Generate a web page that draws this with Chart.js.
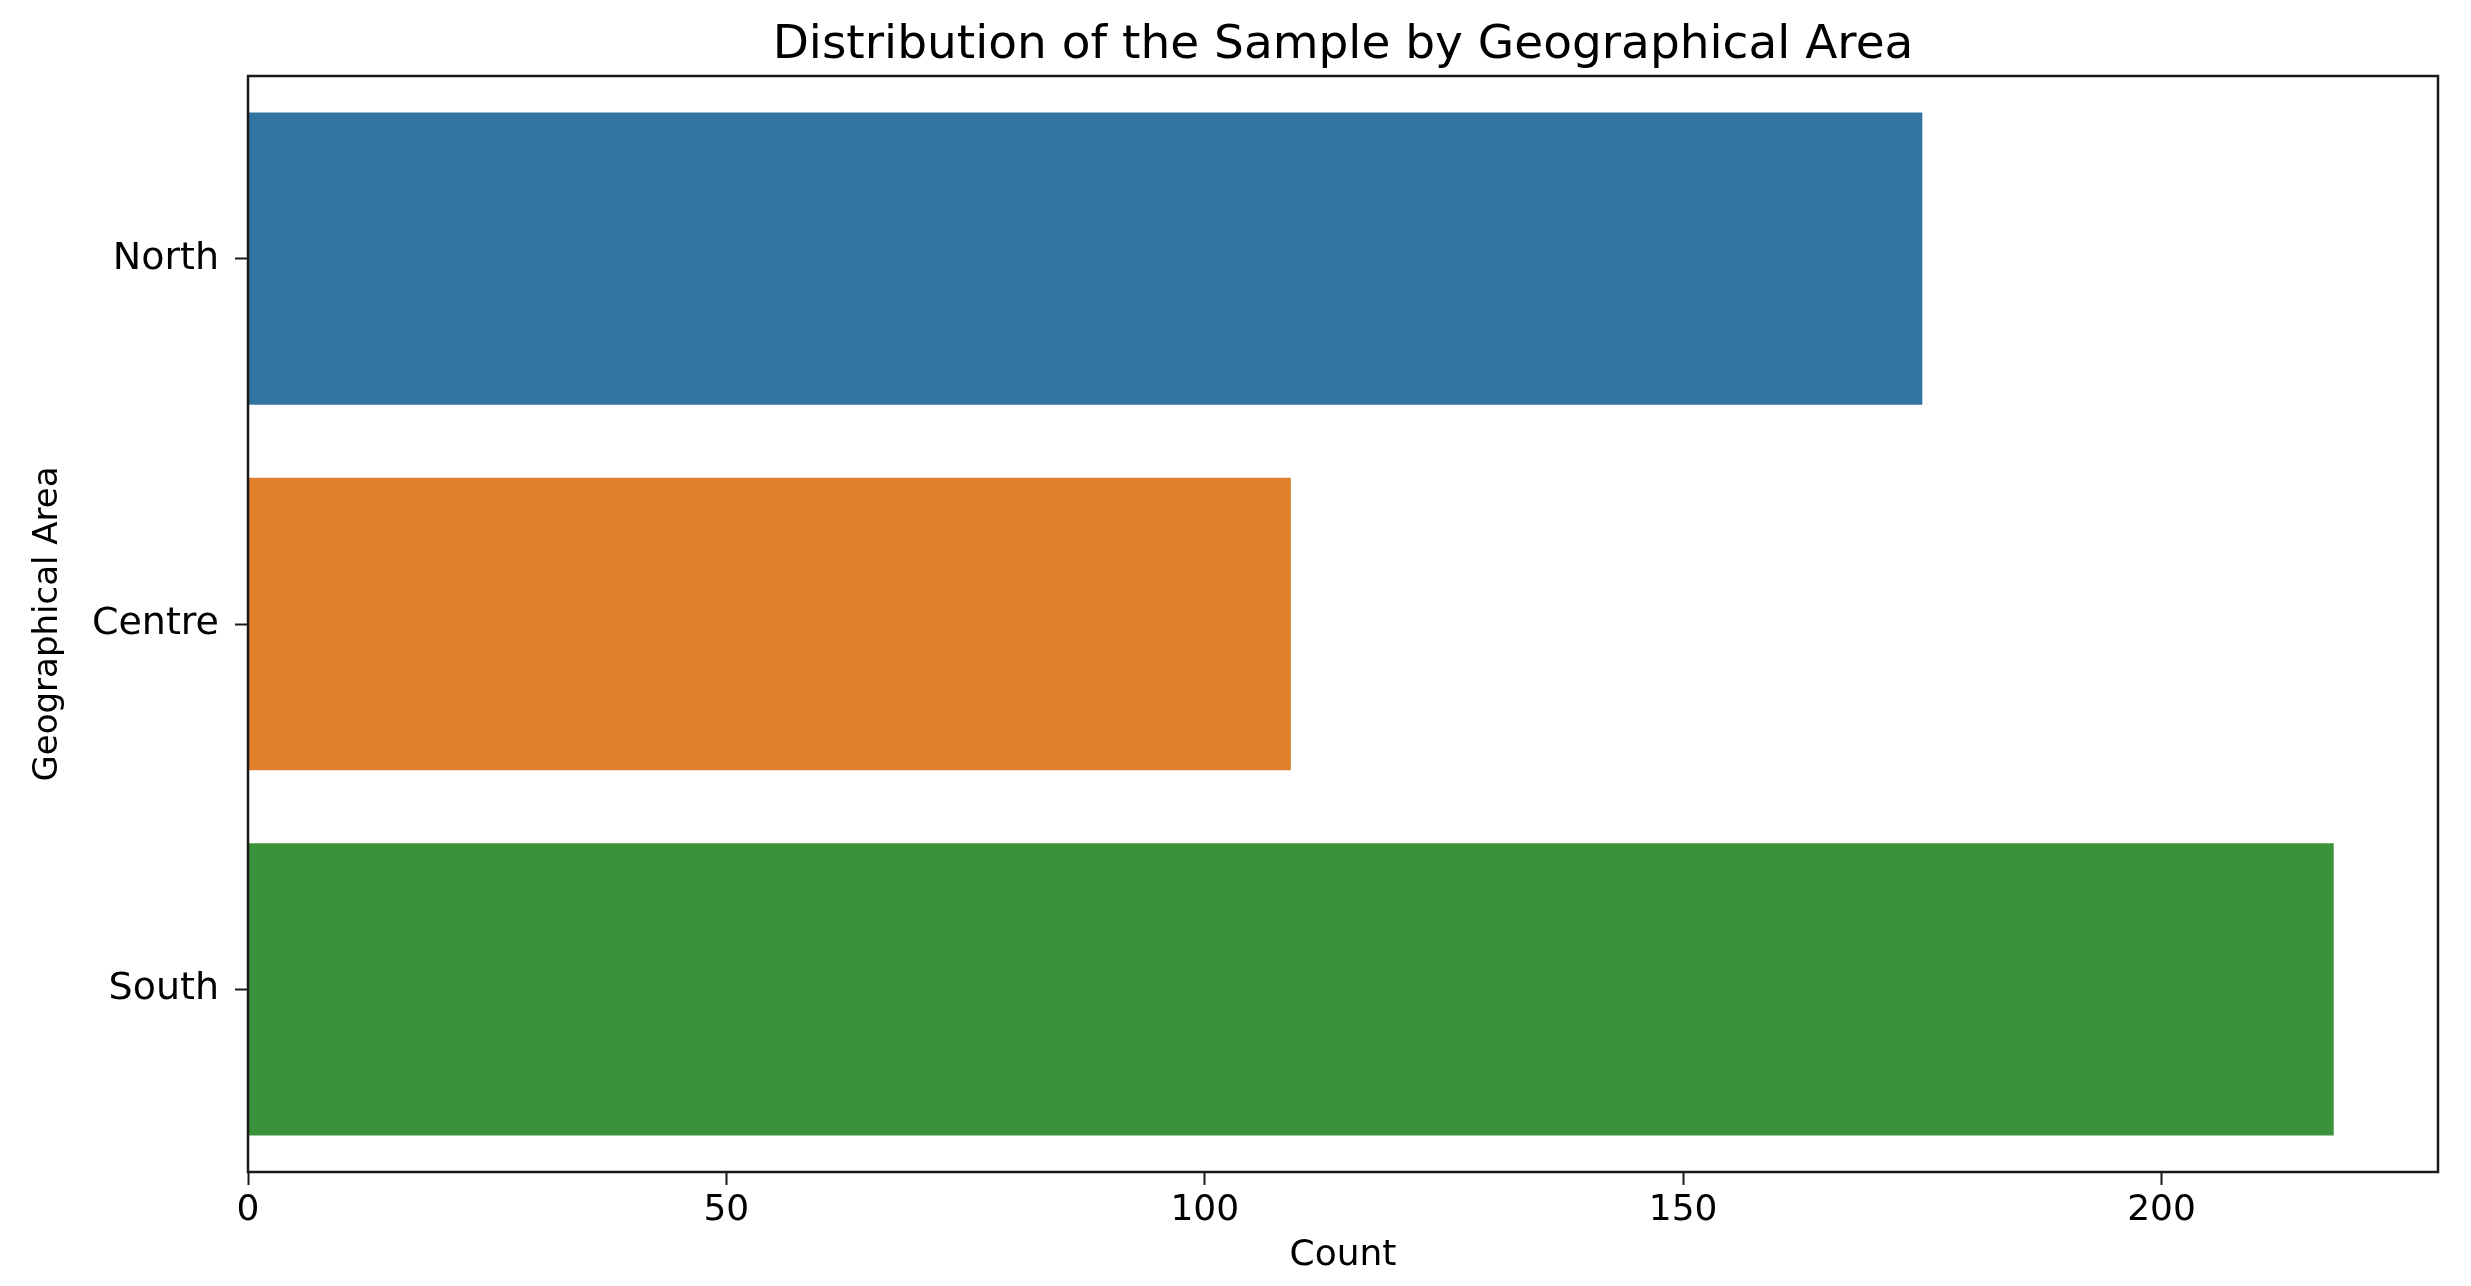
<!DOCTYPE html>
<html>
<head>
<meta charset="utf-8">
<title>Distribution of the Sample by Geographical Area</title>
<script src="https://cdn.jsdelivr.net/npm/chart.js@4.4.0/dist/chart.umd.min.js"></script>
<style>
    html, body { margin: 0; padding: 0; background: #fff; }
    #chart-wrap { width: 2471px; height: 1286px; }
</style>
</head>
<body>
<div id="chart-wrap">
    <canvas id="area-chart" width="2471" height="1286"></canvas>
</div>
<script>
// data
var areas = ['North', 'Centre', 'South'];
var counts = [175, 109, 218];
var barColors = ['#3274a1', '#e1812c', '#3a923a'];
var countTicks = [0, 50, 100, 150, 200];
var countMax = 228.9; // 5% margin past the longest bar

var fontFamily = "'DejaVu Sans', sans-serif";

// black box around the plot area, like the matplotlib spines
var frameBox = {
    id: 'frameBox',
    afterDatasetsDraw: function(chart) {
        var a = chart.chartArea;
        var ctx = chart.ctx;
        ctx.save();
        ctx.strokeStyle = '#1a1a1a';
        ctx.lineWidth = 2.5;
        ctx.strokeRect(a.left, a.top, a.right - a.left, a.bottom - a.top);
        ctx.restore();
    }
};

var ctx = document.getElementById('area-chart').getContext('2d');
window.areaChart = new Chart(ctx, {
    type: 'bar',
    data: {
        labels: areas,
        datasets: [{
            label: 'Count',
            data: counts,
            backgroundColor: barColors,
            borderWidth: 0,
            categoryPercentage: 0.8,
            barPercentage: 1.0
        }]
    },
    options: {
        indexAxis: 'y',
        responsive: false,
        animation: false,
        devicePixelRatio: 1,
        layout: {
            padding: { left: 0, right: 33, top: 0, bottom: 0 }
        },
        plugins: {
            legend: { display: false },
            tooltip: { enabled: false },
            title: {
                display: true,
                text: 'Distribution of the Sample by Geographical Area',
                fullSize: false,
                color: '#000',
                font: { family: fontFamily, size: 47, weight: 'normal', lineHeight: 1.2 },
                padding: { top: 18, bottom: 1.6 }
            }
        },
        scales: {
            x: {
                type: 'linear',
                min: 0,
                max: countMax,
                afterFit: function(scale) { scale.height = 114; },
                afterBuildTicks: function(scale) {
                    scale.ticks = countTicks.map(function(v) { return { value: v }; });
                },
                grid: {
                    drawOnChartArea: false,
                    drawTicks: true,
                    tickLength: 13,
                    tickWidth: 2,
                    tickColor: '#1a1a1a'
                },
                border: { display: false },
                ticks: {
                    color: '#000',
                    padding: 4,
                    font: { family: fontFamily, size: 36 }
                },
                title: {
                    display: true,
                    text: 'Count',
                    color: '#000',
                    font: { family: fontFamily, size: 36, lineHeight: 1.2 },
                    padding: { top: 0, bottom: 9 }
                }
            },
            y: {
                type: 'category',
                offset: true,
                afterFit: function(scale) { scale.width = 248; },
                grid: {
                    drawOnChartArea: false,
                    drawTicks: true,
                    tickLength: 13,
                    tickWidth: 2,
                    tickColor: '#1a1a1a',
                    offset: false
                },
                border: { display: false },
                ticks: {
                    color: '#000',
                    padding: 16,
                    font: { family: fontFamily, size: 38 }
                },
                title: {
                    display: true,
                    text: 'Geographical Area',
                    color: '#000',
                    font: { family: fontFamily, size: 34, lineHeight: 1.2 },
                    padding: { top: 28, bottom: 0 }
                }
            }
        }
    },
    plugins: [frameBox]
});
</script>
</body>
</html>
